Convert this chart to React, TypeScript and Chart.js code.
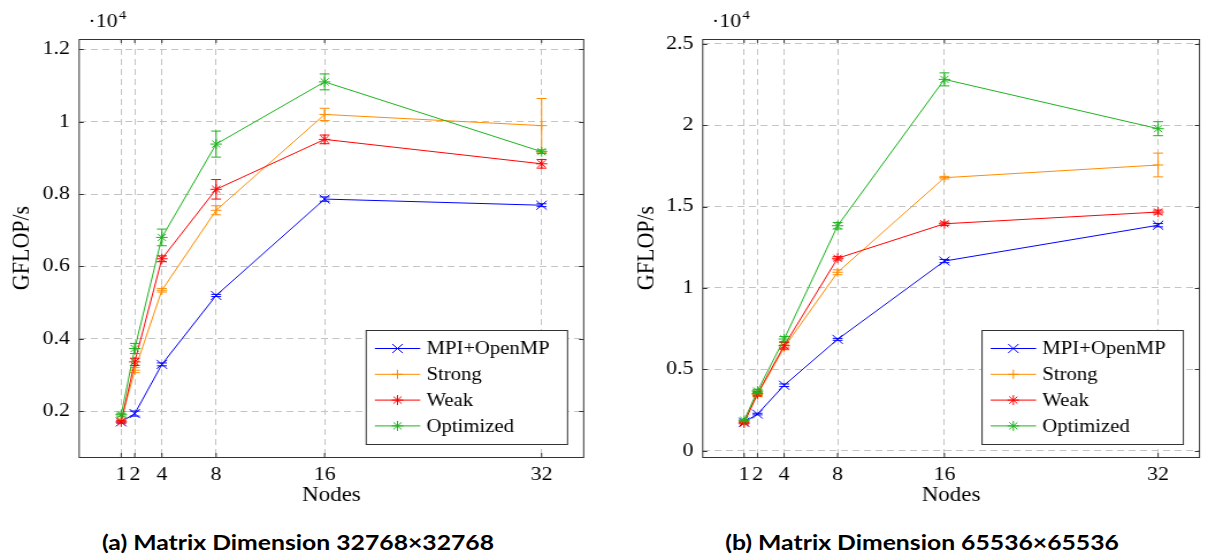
import React, { useEffect, useRef } from "react";
import { Chart, registerables } from "chart.js";

Chart.register(...registerables);

// ---------- data ----------
const nodes = [1, 2, 4, 8, 16, 32];
const seriesNames = ["MPI+OpenMP", "Strong", "Weak", "Optimized"];
const seriesColors = ["#0000ff", "#ff8c00", "#ff0000", "#1db31d"];
const markerStyles = ["crossRot", "cross", "star", "star"];
const markerRadius = [6.4, 4.6, 5, 5];

// (a) Matrix Dimension 32768x32768 — GFLOP/s
const mpiA = [1700, 1930, 3290, 5195, 7860, 7690];
const mpiErrA = [30, 70, 40, 30, 60, 40];
const strongA = [1750, 3130, 5340, 7550, 10200, 9890];
const strongErrA = [30, 70, 50, 125, 170, 750];
const weakA = [1700, 3360, 6210, 8130, 9510, 8835];
const weakErrA = [30, 100, 80, 270, 120, 120];
const optA = [1900, 3730, 6800, 9380, 11100, 9170];
const optErrA = [40, 140, 230, 360, 220, 50];

// (b) Matrix Dimension 65536x65536 — GFLOP/s
const mpiB = [1750, 2250, 4020, 6840, 11650, 13850];
const mpiErrB = [50, 50, 80, 60, 100, 100];
const strongB = [1780, 3450, 6350, 10960, 16770, 17550];
const strongErrB = [60, 120, 150, 150, 80, 730];
const weakB = [1700, 3500, 6450, 11820, 13940, 14660];
const weakErrB = [60, 120, 200, 100, 100, 120];
const optB = [1870, 3670, 6860, 13820, 22810, 19780];
const optErrB = [60, 100, 150, 200, 400, 430];

const yTicksA = [2000, 4000, 6000, 8000, 10000, 12000];
const yTicksB = [0, 5000, 10000, 15000, 20000, 25000];
const xTitle = "Nodes";
const yTitle = "GFLOP/s";
const captionA = "(a) Matrix Dimension 32768×32768";
const captionB = "(b) Matrix Dimension 65536×65536";

// ---------- styling ----------
const SERIF = "'Liberation Serif', 'DejaVu Serif', serif";
const TICK_SIZE = 19;
const X_TITLE_SIZE = 20;
const Y_TITLE_SIZE = 22;
const LEGEND_SIZE = 18;
const GRID_COLOR = "#c4c4c4";
const AXIS_COLOR = "#333333";
const CANVAS_W = 525; // drawing width of each panel
const CSS_W = 604; // displayed width (figure is horizontally stretched)
const CANVAS_H = 520;

function fmtTick(v: number) {
  return String(+(v / 10000).toFixed(2));
}

function drawMarker(ctx: CanvasRenderingContext2D, style: string, x: number, y: number, r: number) {
  ctx.beginPath();
  const cross = (rr: number) => {
    ctx.moveTo(x - rr, y);
    ctx.lineTo(x + rr, y);
    ctx.moveTo(x, y - rr);
    ctx.lineTo(x, y + rr);
  };
  const crossRot = (rr: number) => {
    const o = rr * Math.SQRT1_2;
    ctx.moveTo(x - o, y - o);
    ctx.lineTo(x + o, y + o);
    ctx.moveTo(x - o, y + o);
    ctx.lineTo(x + o, y - o);
  };
  if (style === "cross") cross(r);
  else if (style === "crossRot") crossRot(r);
  else {
    cross(r);
    crossRot(r);
  }
  ctx.stroke();
}

const decorPlugin = {
  id: "decor",
  afterDatasetDraw(chart: any, args: any) {
    const ds = chart.data.datasets[args.index];
    const errs: number[] = ds.errors;
    if (!errs) return;
    const xs = chart.scales.x;
    const ys = chart.scales.y;
    const ctx: CanvasRenderingContext2D = chart.ctx;
    ctx.save();
    ctx.strokeStyle = ds.borderColor;
    ctx.lineWidth = 1;
    ds.data.forEach((pt: any, i: number) => {
      const px = xs.getPixelForValue(pt.x);
      const yTop = ys.getPixelForValue(pt.y + errs[i]);
      const yBot = ys.getPixelForValue(pt.y - errs[i]);
      ctx.beginPath();
      ctx.moveTo(px, yTop);
      ctx.lineTo(px, yBot);
      ctx.moveTo(px - 4.3, yTop);
      ctx.lineTo(px + 4.3, yTop);
      ctx.moveTo(px - 4.3, yBot);
      ctx.lineTo(px + 4.3, yBot);
      ctx.stroke();
    });
    ctx.restore();
  },
  afterDraw(chart: any) {
    const ctx: CanvasRenderingContext2D = chart.ctx;
    const a = chart.chartArea;
    const xs = chart.scales.x;
    const ys = chart.scales.y;
    ctx.save();
    // axis box
    ctx.strokeStyle = AXIS_COLOR;
    ctx.lineWidth = 1;
    ctx.strokeRect(a.left, Math.round(a.top) + 0.5, a.right - a.left, Math.round(a.bottom - a.top));
    // inner ticks
    ctx.beginPath();
    xs.ticks.forEach((t: any) => {
      const px = xs.getPixelForValue(t.value);
      ctx.moveTo(px, a.bottom);
      ctx.lineTo(px, a.bottom - 4);
      ctx.moveTo(px, a.top);
      ctx.lineTo(px, a.top + 4);
    });
    ys.ticks.forEach((t: any) => {
      const py = Math.round(ys.getPixelForValue(t.value)) + 0.5;
      ctx.moveTo(a.left, py);
      ctx.lineTo(a.left + 4, py);
      ctx.moveTo(a.right, py);
      ctx.lineTo(a.right - 4, py);
    });
    ctx.stroke();

    // exponent label
    ctx.fillStyle = "#000";
    ctx.font = `${TICK_SIZE}px ${SERIF}`;
    ctx.textBaseline = "alphabetic";
    ctx.textAlign = "left";
    const ex = a.left + 8;
    ctx.fillText("·10", ex, 27);
    const w = ctx.measureText("·10").width;
    ctx.font = `13px ${SERIF}`;
    ctx.fillText("4", ex + w + 1, 19);

    // legend
    const bw = 175;
    const bh = 114;
    const bx = a.right - 14 - bw;
    const by = Math.round(a.bottom - 13 - bh) + 0.5;
    ctx.fillStyle = "#fff";
    ctx.fillRect(bx, by, bw, bh);
    ctx.strokeStyle = AXIS_COLOR;
    ctx.strokeRect(bx, by, bw, bh);
    ctx.font = `${LEGEND_SIZE}px ${SERIF}`;
    ctx.textBaseline = "middle";
    chart.data.datasets.forEach((ds: any, i: number) => {
      const ry = by + 18 + i * 25.8;
      ctx.strokeStyle = ds.borderColor;
      ctx.lineWidth = 1;
      ctx.beginPath();
      ctx.moveTo(bx + 7.5, ry);
      ctx.lineTo(bx + 47, ry);
      ctx.stroke();
      drawMarker(ctx, markerStyles[i], bx + 27.2, ry, markerRadius[i]);
      ctx.fillStyle = "#000";
      ctx.fillText(ds.label, bx + 52.4, ry + 1);
    });
    ctx.restore();
  },
};

type Panel = {
  series: number[][];
  errors: number[][];
  yMin: number;
  yMax: number;
  yTicks: number[];
  yAxisWidth: number;
  padRight: number;
  yTitlePad: number;
};

const panelA: Panel = {
  series: [mpiA, strongA, weakA, optA],
  errors: [mpiErrA, strongErrA, weakErrA, optErrA],
  yMin: 730,
  yMax: 12285,
  yTicks: yTicksA,
  yAxisWidth: 68.8,
  padRight: 17.7,
  yTitlePad: 5.7,
};

const panelB: Panel = {
  series: [mpiB, strongB, weakB, optB],
  errors: [mpiErrB, strongErrB, weakErrB, optErrB],
  yMin: -387,
  yMax: 25290,
  yTicks: yTicksB,
  yAxisWidth: 85.8,
  padRight: 1,
  yTitlePad: 23.7,
};

function ChartPanel({ panel, left }: { panel: Panel; left: number }) {
  const ref = useRef<HTMLCanvasElement | null>(null);
  useEffect(() => {
    if (!ref.current) return;
    const tickFont = { family: SERIF, size: TICK_SIZE };
    const chart = new Chart(ref.current, {
      type: "line",
      data: {
        datasets: panel.series.map((vals, i) => ({
          label: seriesNames[i],
          data: vals.map((v, j) => ({ x: nodes[j], y: v })),
          errors: panel.errors[i],
          borderColor: seriesColors[i],
          backgroundColor: seriesColors[i],
          borderWidth: 1,
          pointStyle: markerStyles[i],
          pointRadius: markerRadius[i],
          pointBorderWidth: 1,
          pointBorderColor: seriesColors[i],
          fill: false,
          tension: 0,
          order: 3 - i,
        })) as any,
      },
      options: {
        animation: false,
        responsive: false,
        events: [],
        layout: { padding: { left: 0, top: 39, right: panel.padRight, bottom: 13 } },
        plugins: { legend: { display: false }, tooltip: { enabled: false } },
        scales: {
          x: {
            type: "linear",
            min: -2.1,
            max: 35.1,
            afterBuildTicks: (s: any) => {
              s.ticks = nodes.map((v) => ({ value: v }));
            },
            afterFit: (s: any) => {
              s.height = 50;
            },
            ticks: {
              autoSkip: false,
              maxRotation: 0,
              minRotation: 0,
              padding: 7,
              color: "#000",
              font: tickFont,
              callback: (v: any) => String(v),
            },
            grid: { color: GRID_COLOR, lineWidth: 1, drawTicks: false },
            border: { display: false, dash: [6, 4] },
            title: {
              display: true,
              text: xTitle,
              color: "#000",
              font: { family: SERIF, size: X_TITLE_SIZE },
              padding: { top: 0, bottom: -1 },
            },
          },
          y: {
            type: "linear",
            min: panel.yMin,
            max: panel.yMax,
            afterBuildTicks: (s: any) => {
              s.ticks = panel.yTicks.map((v) => ({ value: v }));
            },
            afterFit: (s: any) => {
              s.width = panel.yAxisWidth;
            },
            ticks: {
              padding: 8,
              color: "#000",
              font: tickFont,
              callback: (v: any) => fmtTick(Number(v)),
            },
            grid: { color: GRID_COLOR, lineWidth: 1, drawTicks: false },
            border: { display: false, dash: [6, 4] },
            title: {
              display: true,
              text: yTitle,
              color: "#000",
              font: { family: SERIF, size: Y_TITLE_SIZE },
              padding: { top: panel.yTitlePad, bottom: 0 },
            },
          },
        },
      } as any,
      plugins: [decorPlugin as any],
    });
    return () => chart.destroy();
  }, [panel]);
  return (
    <canvas
      ref={ref}
      width={CANVAS_W}
      height={CANVAS_H}
      style={{ position: "absolute", left, top: 0, width: CSS_W, height: CANVAS_H }}
    />
  );
}

const captionStyle: React.CSSProperties = {
  position: "absolute",
  top: 529,
  width: 600,
  textAlign: "center",
  fontFamily: "Lato, 'Open Sans', sans-serif",
  fontWeight: 700,
  fontSize: 21.5,
  lineHeight: "26px",
  color: "#000",
  transform: "scaleX(1.15)",
  transformOrigin: "center",
};

export default function App() {
  return (
    <div style={{ position: "absolute", left: 0, top: 0, width: 1208, height: 557, background: "#fff", overflow: "hidden" }}>
      <ChartPanel panel={panelA} left={0} />
      <ChartPanel panel={panelB} left={604} />
      <div style={{ ...captionStyle, left: 298 - 300 }}>{captionA}</div>
      <div style={{ ...captionStyle, left: 922 - 300 }}>{captionB}</div>
    </div>
  );
}
